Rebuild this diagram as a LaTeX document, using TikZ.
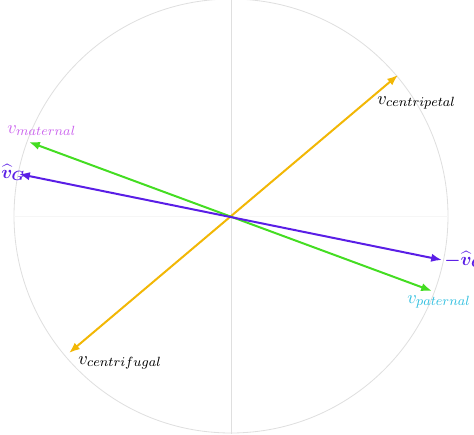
\documentclass[tikz,border=0pt]{standalone}
\usepackage{amsmath,bm}
\usetikzlibrary{arrows.meta}
\definecolor{cyel}{HTML}{F2B705}
\definecolor{cgrn}{HTML}{44DD22}
\definecolor{cpur}{HTML}{5A1EE6}
\definecolor{cmag}{HTML}{CC66EE}
\definecolor{ccya}{HTML}{33C0E0}
\begin{document}
\begin{tikzpicture}[x=0.6pt,y=-0.6pt,
  vec/.style={line width=1.2pt,{Latex[length=6.5pt,width=5pt]}-{Latex[length=6.5pt,width=5pt]}},
  guide/.style={draw=gray!25,line width=0.5pt},
  lab/.style={inner sep=0pt,anchor=base west,font=\fontsize{11}{13}\selectfont}]
\useasboundingbox (0,0) rectangle (474,434);
\coordinate (C) at (231,216);
\coordinate (T) at (231,-1);
\coordinate (B) at (231,434);
\coordinate (L) at (14,216);
\coordinate (R) at (448,216);
\draw[guide] (C) circle[radius=130.2pt];
\draw[guide] (T) -- (B);
\draw[draw=gray!7,line width=0.5pt] (L) -- (R);
\coordinate (y1) at (69,353);
\coordinate (y2) at (398,75);
\coordinate (g1) at (29,142);
\coordinate (g2) at (432,291);
\coordinate (p1) at (19,174);
\coordinate (p2) at (442,260);
\draw[vec,cyel] (y1) -- (y2);
\draw[vec,cgrn] (g1) -- (g2);
\draw[vec,cpur] (p1) -- (p2);
\node[lab,text=cmag] (nm) at (7,133) {$v_{maternal}$};
\node[lab,text=cpur] (ng) at (1,178) {$\bm{\widehat{v}_G}$};
\node[lab] (ncp) at (377,104) {$v_{centripetal}$};
\node[lab,text=cpur] (nng) at (444,265) {$\bm{-\widehat{v}_G}$};
\node[lab,text=ccya] (npt) at (407,303) {$v_{paternal}$};
\node[lab] (ncf) at (78,364) {$v_{centrifugal}$};
\end{tikzpicture}
\end{document}
